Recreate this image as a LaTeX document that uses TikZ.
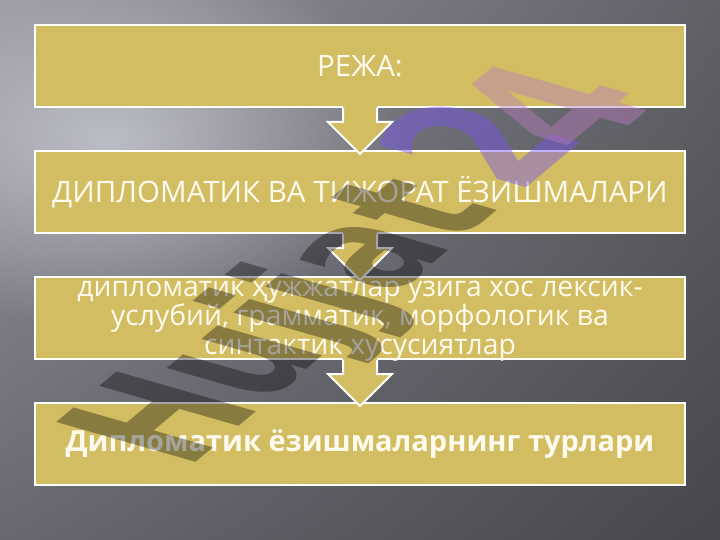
\documentclass[tikz,border=0pt]{standalone}
\usepackage{fontspec}
\setmainfont{Open Sans}
\newfontfamily\wmfont{DejaVu Sans}
\usetikzlibrary{positioning,calc,shadings,fadings}

\definecolor{boxgold}{RGB}{210,189,98}
\definecolor{boxtext}{RGB}{255,251,238}
\definecolor{bgtl}{RGB}{150,150,160}
\definecolor{bgtr}{RGB}{96,96,103}
\definecolor{bgbl}{RGB}{104,104,112}
\definecolor{bgbr}{RGB}{70,70,76}
\definecolor{bgglow}{RGB}{212,214,222}
\definecolor{wmviolet}{RGB}{120,85,240}
\definecolor{wmpink}{RGB}{185,125,190}

\tikzfading[name=glowfade, inner color=transparent!0, outer color=transparent!100]

\tikzset{
  planbox/.style={draw=white, line width=2pt, fill=boxgold,
    minimum width=650pt, minimum height=82pt, inner sep=0pt},
  boxlabel/.style={text=boxtext, align=center, inner sep=0pt,
    font=\fontsize{29.5}{29}\selectfont},
  downarrow/.style={draw=white, line width=2pt, line join=miter},
  wmletter/.style={transform shape, inner sep=0pt,
    font=\wmfont\bfseries\fontsize{100}{100}\selectfont}
}

\begin{document}
\begin{tikzpicture}[x=1pt,y=-1pt,node distance=42pt]
\useasboundingbox (0,0) rectangle (720,540);
% background
\shade[upper left=bgtl, upper right=bgtr, lower left=bgbl, lower right=bgbr]
  (0,0) rectangle (720,540);
\fill[bgglow, opacity=0.7, path fading=glowfade] (110,140) ellipse (300 and 190);

% boxes
\node[planbox] (plan) at (360,66) {};
\node[planbox, below=of plan] (kinds) {};
\node[planbox, below=of kinds] (features) {};
\node[planbox, below=of features] (types) {};

% arrows
\foreach \a/\b in {plan/kinds, kinds/features, features/types}{
  \fill[boxgold] ($(\a.south)+(-17,-6)$) -- ($(\a.south)+(-17,14)$)
    -- ($(\a.south)+(-32,14)$) -- ($(\b.north)+(0,4)$)
    -- ($(\a.south)+(32,14)$) -- ($(\a.south)+(17,14)$)
    -- ($(\a.south)+(17,-6)$) -- cycle;
  \draw[downarrow] ($(\a.south)+(-17,0)$) -- ($(\a.south)+(-17,14)$)
    -- ($(\a.south)+(-32,14)$) -- ($(\b.north)+(0,4)$)
    -- ($(\a.south)+(32,14)$) -- ($(\a.south)+(17,14)$)
    -- ($(\a.south)+(17,0)$);
}

% texts
\node[boxlabel] (plantext) at (plan) {РЕЖА:};
\node[boxlabel] (kindstext) at (kinds) {ДИПЛОМАТИК ВА ТИЖОРАТ ЁЗИШМАЛАРИ};
\node[boxlabel, font=\fontsize{28.3}{29}\selectfont] (featurestext) at ($(features)+(0,3)$)
  {дипломатик ҳужжатлар узига хос лексик-\\услубий, грамматик, морфологик ва\\синтактик хусусиятлар};
\node[boxlabel, font=\fontsize{29}{29}\selectfont\bfseries] (typestext) at (types)
  {Дипломатик ёзишмаларнинг турлари};

% watermark
\begin{scope}[cm={0.924,0.775,-1.912,0.548,(187,470)}]
\node[wmletter, anchor=base west, text opacity=0.35] (wmword) at (0,0) {Hujjat};
\end{scope}
\begin{scope}[cm={1.016,0.853,-2.103,0.603,(476,142)}]
\node[wmletter, text opacity=0.45, text=wmviolet] (wmtwo) at (0,0) {2};
\end{scope}
\begin{scope}[cm={1.016,0.853,-2.103,0.603,(550,106)}]
\node[wmletter, text opacity=0.45, text=wmpink] (wmfour) at (0,0) {4};
\end{scope}
\end{tikzpicture}
\end{document}
